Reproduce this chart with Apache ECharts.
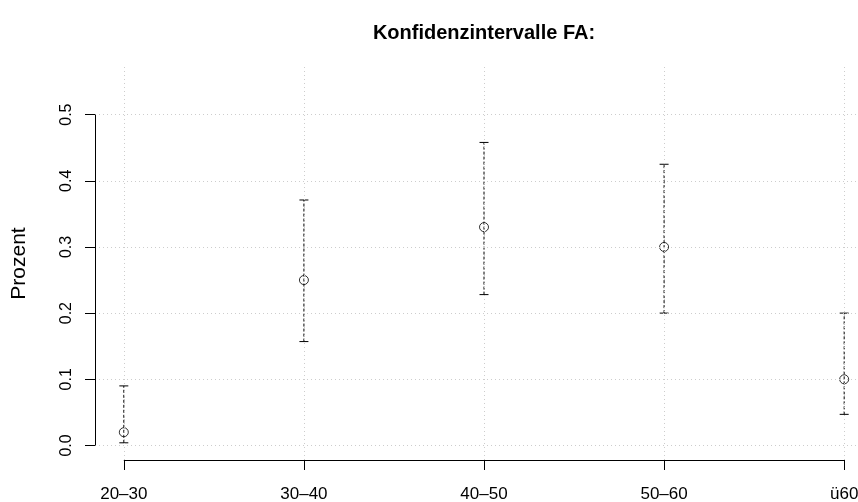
<!DOCTYPE html>
<html><head><meta charset="utf-8">
<script src="https://cdn.jsdelivr.net/npm/echarts@6/dist/echarts.min.js"></script>
<style>html,body{margin:0;padding:0;background:#fff}#c{width:858px;height:502px}</style>
</head><body><div id="c"></div>
<script>
const categories = ["20–30", "30–40", "40–50", "50–60", "ü60"];
const estimates = [0.02, 0.25, 0.33, 0.30, 0.10];
const lowerBounds = [0.004, 0.157, 0.228, 0.200, 0.047];
const upperBounds = [0.090, 0.371, 0.458, 0.425, 0.200];
const yTicks = [0, 0.1, 0.2, 0.3, 0.4, 0.5];
const yTickLabels = ["0.0", "0.1", "0.2", "0.3", "0.4", "0.5"];
const xPositions = [1, 2, 3, 4, 5];
const xRange = [0.84, 5.16];
const yRange = [-0.022, 0.572];

const FONT = '"Liberation Sans", Arial, Helvetica, sans-serif';
const chart = echarts.init(document.getElementById('c'), null, {renderer: 'canvas'});
const barData = xPositions.map((x, i) => [x, lowerBounds[i], upperBounds[i]]);
const pointData = xPositions.map((x, i) => [x, estimates[i]]);
const gridStyle = {color: '#cdcdcd', width: 1, type: [1, 3]};

const option = {
  animation: false,
  backgroundColor: '#fff',
  title: {
    text: 'Konfidenzintervalle FA:', left: 484, top: 23, textAlign: 'center', padding: 0,
    textStyle: {fontFamily: FONT, fontWeight: 'bold', fontSize: 20, color: '#000'}
  },
  grid: {left: 95, right: -15, top: 67, bottom: 42, containLabel: false, outerBoundsMode: 'none'},
  xAxis: {
    type: 'value', min: xRange[0], max: xRange[1],
    axisLine: {show: false, onZero: false},
    axisTick: {show: true, length: 10, lineStyle: {color: '#000', width: 1}, customValues: xPositions},
    axisLabel: {
      customValues: xPositions, formatter: v => categories[Math.round(v) - 1],
      margin: 26, fontFamily: FONT, fontSize: 17, color: '#000'
    },
    splitLine: {show: false}
  },
  yAxis: {
    type: 'value', min: yRange[0], max: yRange[1],
    name: 'Prozent', nameLocation: 'middle', nameRotate: 90, nameGap: 65,
    nameTextStyle: {fontFamily: FONT, fontSize: 21, color: '#000'},
    axisLine: {show: false, onZero: false},
    axisTick: {show: true, length: 10, lineStyle: {color: '#000', width: 1}, customValues: yTicks},
    axisLabel: {
      customValues: yTicks, rotate: 90, margin: 20,
      formatter: v => yTickLabels[Math.round(v * 10)],
      fontFamily: FONT, fontSize: 16, color: '#000'
    },
    splitLine: {show: false}
  },
  series: [
    {
      type: 'line', data: [], silent: true, z: 1,
      markLine: {
        silent: true, symbol: 'none', animation: false,
        label: {show: false},
        lineStyle: gridStyle,
        data: yTicks.map(v => ({yAxis: v})).concat(xPositions.map(v => ({xAxis: v})))
      }
    },
    {
      type: 'line', data: [], silent: true, z: 2,
      markLine: {
        silent: true, symbol: 'none', animation: false,
        label: {show: false},
        lineStyle: {color: '#000', width: 1, type: 'solid'},
        data: [
          [{coord: [xRange[0], yTicks[0]]}, {coord: [xRange[0], yTicks[yTicks.length - 1]]}],
          [{coord: [xPositions[0], yRange[0]]}, {coord: [xPositions[xPositions.length - 1], yRange[0]]}]
        ]
      }
    },
    {
      type: 'custom', z: 3, silent: true,
      data: barData,
      encode: {x: 0, y: [1, 2]},
      renderItem: function (params, api) {
        const x = api.value(0), lo = api.value(1), hi = api.value(2);
        const pLo = api.coord([x, lo]), pHi = api.coord([x, hi]);
        const hw = 4.5;
        return {
          type: 'group', children: [
            {type: 'line', shape: {x1: pLo[0], y1: pLo[1], x2: pHi[0], y2: pHi[1]},
              style: {stroke: '#000', lineWidth: 1, lineDash: [3, 2]}},
            {type: 'line', shape: {x1: pLo[0] - hw, y1: pLo[1], x2: pLo[0] + hw, y2: pLo[1]},
              style: {stroke: '#000', lineWidth: 1}},
            {type: 'line', shape: {x1: pHi[0] - hw, y1: pHi[1], x2: pHi[0] + hw, y2: pHi[1]},
              style: {stroke: '#000', lineWidth: 1}}
          ]
        };
      }
    },
    {
      type: 'scatter', z: 4, silent: true,
      data: pointData,
      symbol: 'circle', symbolSize: 9,
      itemStyle: {color: 'rgba(0,0,0,0)', borderColor: '#000', borderWidth: 1}
    }
  ]
};
chart.setOption(option);
</script>
</body></html>
